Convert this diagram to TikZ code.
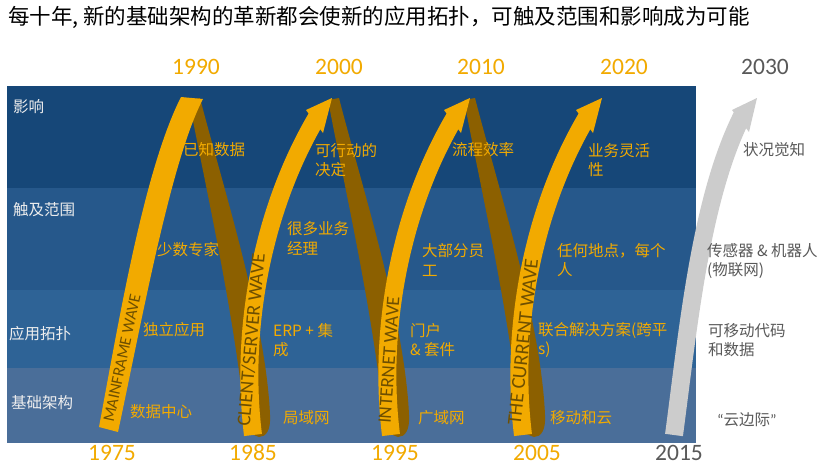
\documentclass[tikz,border=0pt]{standalone}
\usepackage{fontspec}
\setmainfont{Carlito}
\newfontfamily\cjk{Noto Sans CJK SC}
\newfontfamily\lat{Carlito}
\definecolor{bandA}{HTML}{164778}
\definecolor{bandB}{HTML}{26588B}
\definecolor{bandC}{HTML}{2E6396}
\definecolor{bandD}{HTML}{4A6E99}
\definecolor{waveyellow}{HTML}{F2AA00}
\definecolor{wavebrown}{HTML}{8C6000}
\definecolor{wavegray}{HTML}{CCCCCC}
\definecolor{wavetext}{HTML}{6E4F00}
\definecolor{textgray}{HTML}{595959}
\definecolor{labelwhite}{HTML}{EEEEEE}
\newcommand\brownstrip[1]{%
  \begin{scope}[xshift=#1]
  \fill[wavebrown] (328,100) .. controls (345,190) and (375,320) .. (385,432)
     -- (398,437) .. controls (405,437) and (410,430) .. (409,415)
     .. controls (405,320) and (360,180) .. (339,98) -- cycle;
  \end{scope}}
\newcommand\yellowarrow[1]{%
  \begin{scope}[xshift=#1]
  \draw[waveyellow, line width=18] (253,435) .. controls (240,330) and (262,210) .. (317,117);
  \fill[waveyellow] (332,98) -- (306,110) -- (323,133) -- cycle;
  \end{scope}}
\begin{document}
\begin{tikzpicture}[x=1pt,y=-1pt,
  rowlabel/.style={font=\cjk\fontsize{15.5}{18}\selectfont, text=labelwhite, anchor=west, inner sep=0},
  ytext/.style={font=\cjk\fontsize{15.5}{19.5}\selectfont, text=waveyellow, anchor=west, align=left, inner sep=0},
  gtext/.style={font=\cjk\fontsize{15.5}{19.5}\selectfont, text=textgray, anchor=west, align=left, inner sep=0},
  year/.style={font=\lat\fontsize{23.5}{24}\selectfont, text=waveyellow, inner sep=0},
  grayyear/.style={year, text=textgray},
  wavelabel/.style={font=\lat\fontsize{#1}{#1}\selectfont, text=wavetext, inner sep=0}]
\useasboundingbox (0,0) rectangle (832,474);
\fill[white] (0,0) rectangle (832,474);

% title
\node[anchor=west, font=\cjk\fontsize{21.5}{22}\selectfont, inner sep=0] (title) at (8,17.5)
  {每十年, 新的基础架构的革新都会使新的应用拓扑，可触及范围和影响成为可能};

% bands
\fill[bandA] (7,86) rectangle (696,188);
\fill[bandB] (7,188) rectangle (696,290);
\fill[bandC] (7,290) rectangle (696,368);
\fill[bandD] (7,368) rectangle (696,443);

% row labels
\node[rowlabel] (lbImpact) at (13,107) {影响};
\node[rowlabel] (lbReach) at (13,210) {触及范围};
\node[rowlabel] (lbApp) at (9,334) {应用拓扑};
\node[rowlabel] (lbInfra) at (11,403) {基础架构};

% brown back faces
\brownstrip{-139}
\brownstrip{0}
\brownstrip{136}

% wave 1 (fold at top)
\fill[waveyellow] (99,427) .. controls (119,320) and (144,170) .. (181,97)
   -- (203,99) .. controls (171,160) and (142,320) .. (118,432) -- cycle;

% waves 2-4
\yellowarrow{0}
\yellowarrow{138}
\yellowarrow{270}

% gray future wave
\draw[wavegray, line width=18] (674,435) .. controls (688,330) and (700,200) .. (742,116);
\fill[wavegray] (757,98) -- (732,110) -- (749,132) -- cycle;

% wave labels
\node[wavelabel=16.5, rotate=78] (wMain) at (122,358) {MAINFRAME WAVE};
\node[wavelabel=19.5, rotate=85] (wCS) at (251,340) {CLIENT/SERVER WAVE};
\node[wavelabel=19, rotate=86] (wNet) at (389,360) {INTERNET WAVE};
\node[wavelabel=20, rotate=84] (wCur) at (523,342) {THE CURRENT WAVE};

% years
\node[year] (y1990) at (196,67) {1990};
\node[year] (y2000) at (339,67) {2000};
\node[year] (y2010) at (481,67) {2010};
\node[year] (y2020) at (624,67) {2020};
\node[grayyear] (y2030) at (765,67) {2030};
\node[year] (y1975) at (112,453) {1975};
\node[year] (y1985) at (253,453) {1985};
\node[year] (y1995) at (395,453) {1995};
\node[year] (y2005) at (537,453) {2005};
\node[grayyear] (y2015) at (679,453) {2015};

% impact row
\node[ytext] (a1) at (183,150) {已知数据};
\node[ytext] (a2) at (315,160) {可行动的\\决定};
\node[ytext] (a3) at (452,150) {流程效率};
\node[ytext] (a4) at (588,160) {业务灵活\\性};
\node[gtext] (a5) at (743,150) {状况觉知};
% reach row
\node[ytext] (r1) at (157,250) {少数专家};
\node[ytext] (r2) at (287,238.5) {很多业务\\经理};
\node[ytext] (r3) at (422,260) {大部分员\\工};
\node[ytext] (r4) at (557,260) {任何地点，每个\\人};
\node[gtext] (r5) at (707,261) {传感器 \& 机器人\\(物联网)};
% app topology row
\node[ytext] (t1) at (143,330) {独立应用};
\node[ytext] (t2) at (273,340) {ERP + 集\\成};
\node[ytext] (t3) at (410,340) {门户\\\& 套件};
\node[ytext] (t4) at (538,340) {联合解决方案(跨平\\s)};
\node[gtext] (t5) at (708,340) {可移动代码\\和数据};
% infrastructure row
\node[ytext] (i1) at (130,412) {数据中心};
\node[ytext] (i2) at (283,418) {局域网};
\node[ytext] (i3) at (418,418) {广域网};
\node[ytext] (i4) at (550,418) {移动和云};
\node[gtext] (i5) at (717,420) {{\lat “}云边际{\lat ”}};
\end{tikzpicture}
\end{document}
